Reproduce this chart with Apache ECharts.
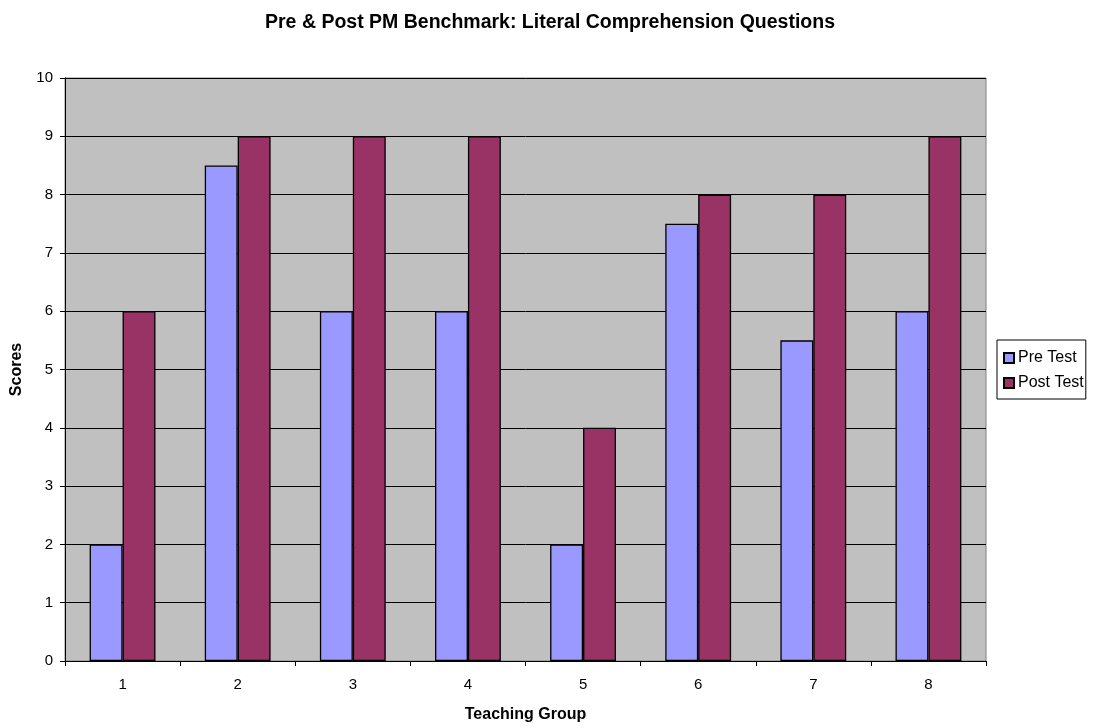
<!DOCTYPE html>
<html><head><meta charset="utf-8">
<script src="https://cdn.jsdelivr.net/npm/echarts@6/dist/echarts.min.js"></script>
<style>html,body{margin:0;padding:0;background:#fff}#c{width:1094px;height:728px}</style>
</head><body><div id="c"></div>
<script>
const categories = ['1','2','3','4','5','6','7','8'];
const preTest = [2, 8.5, 6, 6, 2, 7.5, 5.5, 6];
const postTest = [6, 9, 9, 9, 4, 8, 8, 9];
const chart = echarts.init(document.getElementById('c'));
const font = 'Liberation Sans, Arial, sans-serif';
chart.setOption({
  animation: false,
  backgroundColor: '#fff',
  title: {
    text: 'Pre & Post PM Benchmark: Literal Comprehension Questions',
    left: 545, top: 8, textAlign: 'center',
    textStyle: {fontFamily: font, fontSize: 19.5, fontWeight: 'bold', color: '#000'}
  },
  legend: {
    orient: 'vertical', left: 997, top: 340,
    data: ['Pre Test', 'Post Test'],
    itemWidth: 10, itemHeight: 10, itemGap: 9,
    padding: [10, 2, 8, 6],
    borderColor: '#000', borderWidth: 1,
    textStyle: {fontFamily: font, fontSize: 16, color: '#000', padding: [0,0,0,-1]},
    icon: 'rect'
  },
  grid: {
    left: 65, right: 108, top: 78, bottom: 66,
    show: true, backgroundColor: '#c0c0c0', borderColor: '#808080', borderWidth: 1
  },
  xAxis: {
    type: 'category', data: categories,
    name: 'Teaching Group', nameLocation: 'middle', nameGap: 46,
    nameTextStyle: {fontFamily: font, fontSize: 16, fontWeight: 'bold', color: '#000'},
    axisLine: {lineStyle: {color: '#000'}},
    axisTick: {show: true, length: 5, lineStyle: {color: '#000'}},
    axisLabel: {fontFamily: font, fontSize: 15, color: '#000', margin: 16}
  },
  yAxis: {
    type: 'value', min: 0, max: 10, interval: 1,
    name: 'Scores', nameLocation: 'middle', nameGap: 40,
    nameTextStyle: {fontFamily: font, fontSize: 16, fontWeight: 'bold', color: '#000'},
    axisLine: {show: true, lineStyle: {color: '#000'}},
    axisTick: {show: true, length: 5, lineStyle: {color: '#000'}},
    axisLabel: {fontFamily: font, fontSize: 15, color: '#000', margin: 12},
    splitLine: {show: true, lineStyle: {color: '#000', width: 1}}
  },
  series: [
    {name: 'Pre Test', type: 'bar', data: preTest, barWidth: '28.6%', barGap: '0%',
     itemStyle: {color: '#9999ff', borderColor: '#000', borderWidth: 1.3}},
    {name: 'Post Test', type: 'bar', data: postTest, barWidth: '28.6%',
     itemStyle: {color: '#993366', borderColor: '#000', borderWidth: 1.3}}
  ]
});
</script></body></html>
